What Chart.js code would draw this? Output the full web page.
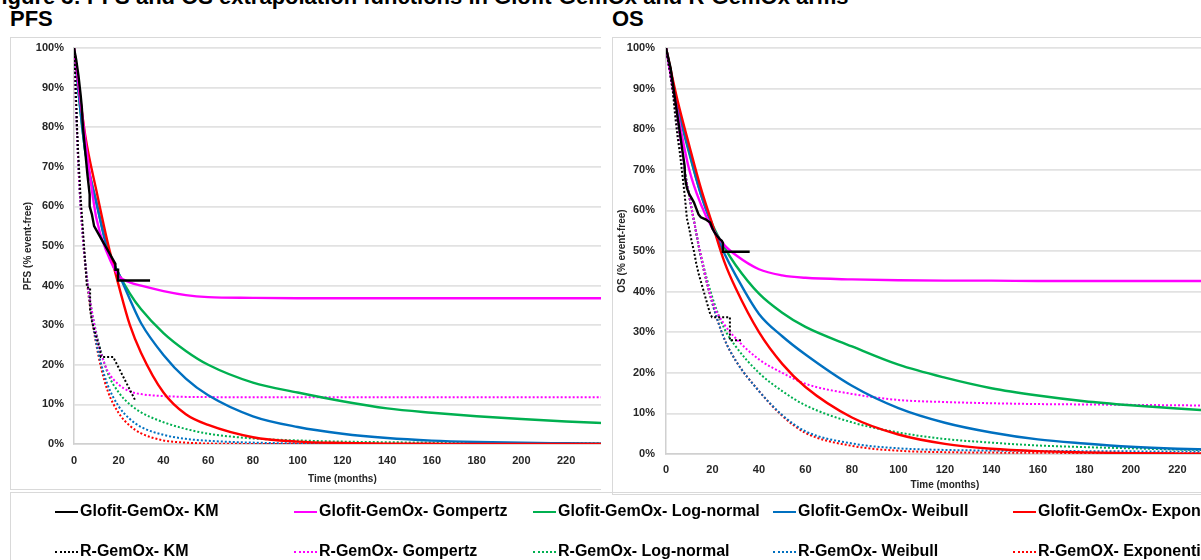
<!DOCTYPE html>
<html>
<head>
<meta charset="utf-8">
<script src="https://cdn.jsdelivr.net/npm/chart.js@4.4.0/dist/chart.umd.min.js"></script>
<style>
  html, body { margin: 0; padding: 0; background: #fff; }
  body { width: 1201px; height: 560px; overflow: hidden; position: relative;
         font-family: "Liberation Sans", Arial, sans-serif; color: #000; }
  #fig-title { position: absolute; left: -12px; top: -14px; font-weight: bold; font-size: 22px;
               line-height: 22px; white-space: nowrap; }
  .panel-label { position: absolute; top: 6px; font-weight: bold; font-size: 22px; }
  .box { position: absolute; border: 1px solid #d9d9d9; border-right: none; overflow: hidden; }
  .chart-wrap { position: absolute; left: 0; top: 0; }
  #legend { position: absolute; left: 10px; top: 492px; width: 1200px; height: 80px;
            border-left: 1px solid #d9d9d9; border-top: 1px solid #d9d9d9; }
  .item { position: absolute; font-weight: bold; font-size: 16px; line-height: 20px; white-space: nowrap; }
  .swatch { display: inline-block; width: 23px; height: 0; vertical-align: middle; margin-right: 2px; }
</style>
</head>
<body>
<div id="fig-title">Figure 3: PFS and OS extrapolation functions in Glofit-GemOx and R-GemOx arms</div>
<div class="panel-label" style="left:10px">PFS</div>
<div class="panel-label" style="left:612px">OS</div>

<div class="box" style="left:10px; top:37px; width:590px; height:451px;">
  <div class="chart-wrap" style="width:609px; height:452px;"><canvas id="pfs"></canvas></div>
</div>
<div class="box" style="left:612px; top:37px; width:589px; height:456px;">
  <div class="chart-wrap" style="width:620px; height:456px;"><canvas id="os"></canvas></div>
</div>
<div id="legend"></div>

<script>
// time grids (months)
const months = [0, 5, 10, 15, 20, 25, 30, 40, 50, 60, 80, 100, 120, 140, 160, 180, 200, 220, 240];
const monthsR = [0, 2, 4, 6, 8, 10, 12, 15, 20, 25, 30, 40, 50, 60, 80, 100, 120, 140, 160, 180, 200, 220, 240];

// PFS – Glofit-GemOx
const pfsGlofitKmT = [0, 1, 2, 3, 3.5, 4, 5, 6, 7, 7, 8, 9, 10, 11, 12, 13, 14, 15, 16, 17, 18, 18.5, 18.5, 19.7, 19.7, 34];
const pfsGlofitKmS = [100, 97, 93, 88, 85, 80, 74, 68, 63, 60, 58, 55, 54, 53, 52, 51, 50, 49, 48, 47, 46, 45.5, 44, 44, 41.3, 41.3];
const pfsGlofitGompertz = [100, 77, 57, 48, 42.5, 40.8, 40, 38.6, 37.6, 37.1, 36.9, 36.8, 36.8, 36.8, 36.8, 36.8, 36.8, 36.8, 36.8];
const pfsGlofitLognormal = [100, 74, 61, 49.5, 43, 38, 34, 28, 23.5, 20, 15.5, 13, 10.8, 9, 7.9, 7, 6.3, 5.7, 5.2];
const pfsGlofitWeibull = [100, 74, 61, 49, 43, 36.5, 30.5, 22.5, 16.5, 12.3, 7, 4.3, 2.6, 1.5, 0.85, 0.5, 0.3, 0.2, 0.1];
const pfsGlofitExponential = [100, 78, 64, 51, 40, 30, 23, 13, 7.5, 4.8, 1.7, 0.6, 0.25, 0.1, 0.05, 0, 0, 0, 0];

// PFS – R-GemOx
const pfsRKmT = [0, 0.5, 1, 1.5, 2, 3, 4, 5, 5.8, 7.2, 7.2, 8, 9, 10, 11, 11.6, 12, 17.5, 27.3];
const pfsRKmS = [100, 94, 86, 78, 72, 62, 54, 46, 39.5, 39.5, 34, 31, 29, 27, 25, 24, 22, 22, 11.1];
const pfsRGompertz = [100, 70, 52, 41, 33.5, 27.5, 23, 18.5, 15, 13.3, 12.6, 12.1, 11.9, 11.85, 11.8, 11.8, 11.8, 11.8, 11.8, 11.8, 11.8, 11.8, 11.8];
const pfsRLognormal = [100, 70, 52, 41, 33.5, 28, 23.5, 18, 13, 10, 8, 5.5, 3.8, 2.6, 1.4, 0.9, 0.6, 0.45, 0.35, 0.3, 0.25, 0.2, 0.18];
const pfsRWeibull = [100, 70, 52, 40.5, 32, 25.5, 20.5, 15, 9.5, 6.3, 4.3, 2.3, 1.3, 0.8, 0.35, 0.15, 0.08, 0.05, 0.03, 0.02, 0.01, 0.01, 0];
const pfsRExponential = [100, 70, 52, 40, 31.5, 25, 19.5, 13.5, 7.8, 4.6, 2.7, 0.9, 0.35, 0.12, 0.02, 0, 0, 0, 0, 0, 0, 0, 0];

// OS – Glofit-GemOx
const osGlofitKmT = [0, 2, 4, 6, 8, 8.2, 9, 10, 11, 12, 13, 14, 15, 17, 19, 20, 21, 22, 23, 24, 24.5, 24.5, 36];
const osGlofitKmS = [100, 95, 87, 79, 71, 68, 65.5, 64, 63, 62, 60.5, 59, 58.3, 57.8, 57, 55.5, 54.5, 53.7, 53, 52.5, 52, 49.8, 49.8];
const osGlofitGompertz = [100, 84, 70, 61.5, 55.5, 51.5, 49, 45.5, 44, 43.4, 43, 42.8, 42.7, 42.7, 42.6, 42.6, 42.6, 42.6, 42.6];
const osGlofitLognormal = [100, 85.5, 74, 64, 56.5, 51, 46.5, 39.5, 34.8, 31.3, 26.5, 22, 18.8, 16.2, 14.4, 13, 12, 11.2, 10.5];
const osGlofitWeibull = [100, 86, 74.5, 64, 56, 49.5, 44, 34.5, 29, 24.5, 16.8, 11.3, 7.7, 5.3, 3.6, 2.6, 1.8, 1.3, 1];
const osGlofitExponential = [100, 87, 76, 65.5, 56.5, 47.5, 40.8, 30, 22.2, 16.5, 9, 4.8, 2.5, 1.3, 0.7, 0.4, 0.2, 0.1, 0.05];

// OS – R-GemOx
const osRKmT = [0, 2, 3, 4, 5, 6, 7, 8, 9, 10, 11, 12, 13, 14, 15, 16, 17, 18, 19, 19.8, 27.5, 27.5, 33];
const osRKmS = [100, 93, 89, 83, 78, 74, 69, 64, 58, 55.5, 52.5, 50, 47, 44.5, 42.5, 40.5, 38.5, 36.5, 34.5, 33.7, 33.7, 28, 28];
const osRGompertz = [100, 93, 85.5, 77.5, 70, 63.5, 57.5, 49, 37.5, 32, 28.5, 23.3, 20, 17.3, 14.8, 13.3, 12.8, 12.5, 12.3, 12.2, 12.1, 12, 11.9];
const osRLognormal = [100, 93, 85.5, 77.5, 70, 63.5, 57.5, 49, 38.5, 31, 26.5, 20, 15.5, 12, 7.8, 5.3, 3.7, 2.8, 2.1, 1.7, 1.4, 1.1, 0.9];
const osRWeibull = [100, 93, 85.5, 77.5, 70, 63.5, 57.5, 48.5, 37, 28.5, 23, 15.5, 9.6, 5.6, 2.6, 1.4, 1, 0.85, 0.75, 0.7, 0.65, 0.6, 0.55];
const osRExponential = [100, 93, 85.5, 77.5, 70, 63.5, 57.5, 48.5, 37, 28.5, 23, 15.5, 9.4, 5.2, 2, 0.8, 0.45, 0.35, 0.3, 0.25, 0.2, 0.2, 0.15];

const legendRow1 = ['Glofit-GemOx- KM', 'Glofit-GemOx- Gompertz', 'Glofit-GemOx- Log-normal', 'Glofit-GemOx- Weibull', 'Glofit-GemOx- Exponential'];
const legendRow2 = ['R-GemOx- KM', 'R-GemOx- Gompertz', 'R-GemOx- Log-normal', 'R-GemOx- Weibull', 'R-GemOX- Exponential'];
const colors = ['#000000', '#ff00ff', '#00b050', '#0070c0', '#ff0000'];

function pts(t, s) { return t.map((x, i) => ({ x, y: s[i] })); }

function line(label, t, s, color, dotted, km) {
  return {
    label, data: pts(t, s),
    borderColor: color, borderWidth: dotted ? 2 : 2.4,
    borderDash: dotted ? [2, 2] : [],
    pointRadius: 0, fill: false,
    cubicInterpolationMode: km ? 'default' : 'monotone', tension: 0
  };
}

function makeChart(id, sets, opt) {
  const tickFont = { family: '"Liberation Sans", Arial, sans-serif', size: 11, weight: 'bold' };
  const titleFont = { family: '"Liberation Sans", Arial, sans-serif', size: 10, weight: 'bold' };
  const clear = 'rgba(0,0,0,0)';
  return new Chart(document.getElementById(id), {
    type: 'line',
    data: { datasets: sets },
    options: {
      responsive: true, maintainAspectRatio: false, animation: false,
      layout: { padding: { left: 0, top: 10, right: 0, bottom: 0 } },
      plugins: { legend: { display: false }, tooltip: { enabled: false } },
      scales: {
        x: {
          type: 'linear', min: 0, max: 240,
          ticks: { stepSize: 20, color: '#262626', font: tickFont, padding: 0, maxRotation: 0 },
          // gap between axis and labels comes from invisible tick marks
          grid: { display: true, color: clear, drawTicks: true, tickLength: opt.xGap, tickColor: clear },
          border: { display: true, color: '#d0d0d0', width: 1.5 },
          title: { display: true, text: 'Time (months)', color: '#262626', font: titleFont,
                   padding: { top: 0, bottom: opt.xTitlePad } },
          afterFit: s => { s.height = opt.xHeight; }
        },
        y: {
          min: 0, max: 100,
          ticks: { stepSize: 10, color: '#262626', font: tickFont, padding: 0,
                   callback: v => v + '%' },
          grid: { color: '#e2e2e2', lineWidth: 1.8, drawTicks: true, tickLength: opt.yGap, tickColor: clear },
          border: { display: true, color: '#d0d0d0', width: 1.5 },
          title: { display: true, text: opt.yTitle, color: '#262626', font: titleFont,
                   padding: { top: opt.yTitlePad, bottom: 0 } },
          afterFit: s => { s.width = opt.yWidth; }
        }
      }
    }
  });
}

makeChart('pfs', [
  line(legendRow1[0], pfsGlofitKmT, pfsGlofitKmS, colors[0], false, true),
  line(legendRow2[0], pfsRKmT, pfsRKmS, colors[0], true, true),
  line(legendRow1[1], months, pfsGlofitGompertz, colors[1], false),
  line(legendRow1[4], months, pfsGlofitExponential, colors[4], false),
  line(legendRow1[3], months, pfsGlofitWeibull, colors[3], false),
  line(legendRow1[2], months, pfsGlofitLognormal, colors[2], false),
  line(legendRow2[1], monthsR, pfsRGompertz, colors[1], true),
  line(legendRow2[2], monthsR, pfsRLognormal, colors[2], true),
  line(legendRow2[3], monthsR, pfsRWeibull, colors[3], true),
  line(legendRow2[4], monthsR, pfsRExponential, colors[4], true)
], { yTitle: 'PFS (% event-free)', yWidth: 63, yGap: 10, yTitlePad: 11, xHeight: 46, xGap: 10, xTitlePad: 5 });

makeChart('os', [
  line(legendRow1[0], osGlofitKmT, osGlofitKmS, colors[0], false, true),
  line(legendRow2[0], osRKmT, osRKmS, colors[0], true, true),
  line(legendRow1[1], months, osGlofitGompertz, colors[1], false),
  line(legendRow1[4], months, osGlofitExponential, colors[4], false),
  line(legendRow1[3], months, osGlofitWeibull, colors[3], false),
  line(legendRow1[2], months, osGlofitLognormal, colors[2], false),
  line(legendRow2[1], monthsR, osRGompertz, colors[1], true),
  line(legendRow2[2], monthsR, osRLognormal, colors[2], true),
  line(legendRow2[3], monthsR, osRWeibull, colors[3], true),
  line(legendRow2[4], monthsR, osRExponential, colors[4], true)
], { yTitle: 'OS (% event-free)', yWidth: 53, yGap: 11, yTitlePad: 3, xHeight: 40, xGap: 9, xTitlePad: 3 });

// legend below both panels
const legendX = [44, 283, 522, 762, 1002];
const legend = document.getElementById('legend');
[legendRow1, legendRow2].forEach((row, r) => {
  row.forEach((name, i) => {
    const el = document.createElement('div');
    el.className = 'item';
    el.style.left = legendX[i] + 'px';
    el.style.top = (r === 0 ? 8 : 48) + 'px';
    const sw = document.createElement('span');
    sw.className = 'swatch';
    sw.style.borderTop = (r === 0 ? '2.5px solid ' : '2px dotted ') + colors[i];
    el.appendChild(sw);
    el.appendChild(document.createTextNode(name));
    legend.appendChild(el);
  });
});
</script>
</body>
</html>
